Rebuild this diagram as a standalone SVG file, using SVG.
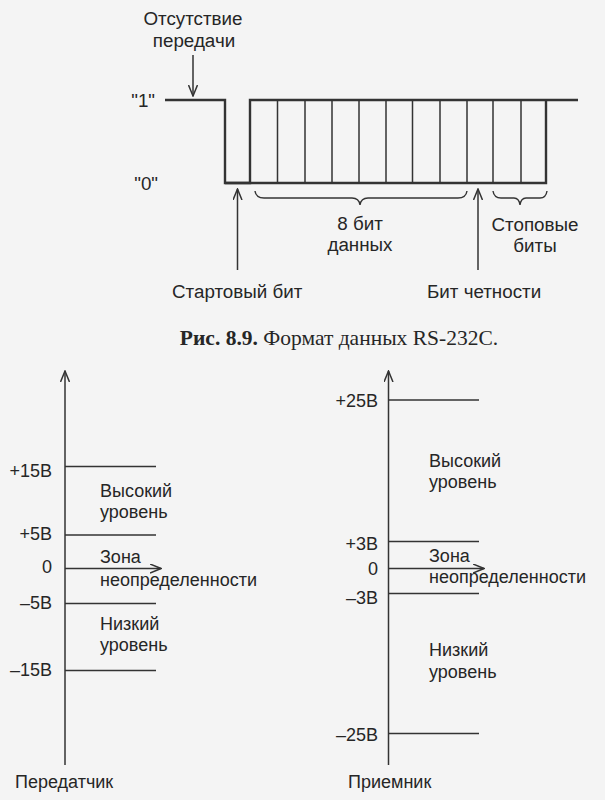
<svg xmlns="http://www.w3.org/2000/svg" width="605" height="800" viewBox="0 0 605 800">
<style>
.t{font-family:"Liberation Sans",Arial,sans-serif;font-size:18.8px;fill:#262626}
.a{font-family:"Liberation Sans",Arial,sans-serif;font-size:18px;fill:#262626}
.m{text-anchor:middle}
.e{text-anchor:end}
.cap{font-family:"Liberation Serif","Times New Roman",serif;font-size:21.5px;fill:#262626}
.w{fill:none;stroke:#333;stroke-width:2.4}
.d{fill:none;stroke:#333;stroke-width:1.5}
.l{fill:none;stroke:#333;stroke-width:1.4}
.ar{fill:none;stroke:#333;stroke-width:1.5;marker-end:url(#ah)}
</style>
<defs>
<marker id="ah" viewBox="0 0 12 10" refX="11" refY="5" markerWidth="12" markerHeight="10" markerUnits="userSpaceOnUse" orient="auto">
<path d="M0,0.5 L11,5 L0,9.5" fill="none" stroke="#333" stroke-width="1.5"/>
</marker>
</defs>
<rect width="605" height="800" fill="#f4f4f4"/>

<g id="waveform">
<path class="w" d="M165,100 H225 V183 H250 V100 H578"/>
<path class="w" d="M225,183 H546 V100"/>
<path class="d" d="M277.5,100 V183 M305,100 V183 M332,100 V183 M359,100 V183 M386,100 V183 M412.5,100 V183 M440,100 V183 M467,100 V183 M493,100 V183 M521,100 V183"/>
<text class="t e" x="155" y="107">"1"</text>
<text class="t e" x="158" y="190">"0"</text>
</g>

<g id="idle">
<text class="t m" x="193" y="25">Отсутствие</text>
<text class="t m" x="194" y="47">передачи</text>
</g>
<g id="start-bit">
<text class="t" x="172" y="298">Стартовый бит</text>
</g>
<g id="parity-bit">
<text class="t" x="427" y="298">Бит четности</text>
</g>
<g id="data-bits">
<path class="l" d="M255,191 Q256,198 264,198 H352 Q359,198 360,205 Q361,198 368,198 H458 Q466,198 467,191"/>
<text class="t m" x="360" y="230">8 бит</text>
<text class="t m" x="360" y="251">данных</text>
</g>
<g id="stop-bits">
<path class="l" d="M493,191 Q494,198 501,198 H514 Q519,198 520,205 Q521,198 526,198 H540 Q546,198 547,191"/>
<text class="t m" x="535" y="231">Стоповые</text>
<text class="t m" x="535" y="252">биты</text>
</g>

<g id="connectors">
<line class="ar" x1="193" y1="55" x2="193" y2="96"/>
<line class="ar" x1="237.5" y1="270" x2="237.5" y2="189"/>
<line class="ar" x1="478" y1="270" x2="478" y2="189"/>
<line class="ar" x1="65" y1="765" x2="65" y2="371"/>
<line class="ar" x1="65" y1="568.5" x2="161" y2="568.5"/>
<line class="ar" x1="388.5" y1="765" x2="388.5" y2="371"/>
<line class="ar" x1="388.5" y1="568.5" x2="484" y2="568.5"/>
</g>

<g id="caption">
<text class="cap m" x="339" y="345"><tspan font-weight="bold">Рис. 8.9.</tspan> Формат данных RS-232C.</text>
</g>

<g id="transmitter">
<path class="l" d="M65,466.5 H156 M65,535 H156 M65,603.5 H156 M65,670.5 H156"/>
<text class="a e" x="52" y="477">+15В</text>
<text class="a e" x="52" y="540">+5В</text>
<text class="a e" x="52" y="573">0</text>
<text class="a e" x="52" y="609">–5В</text>
<text class="a e" x="52" y="676">–15В</text>
<text class="a" x="100" y="497">Высокий</text>
<text class="a" x="100" y="518">уровень</text>
<text class="a" x="100" y="563">Зона</text>
<text class="a" x="100" y="586">неопределенности</text>
<text class="a" x="100" y="630">Низкий</text>
<text class="a" x="100" y="651">уровень</text>
<text class="a" x="15" y="788">Передатчик</text>
</g>

<g id="receiver">
<path class="l" d="M388.5,400 H479 M388.5,541.5 H479 M388.5,593.5 H479 M388.5,733.5 H479"/>
<text class="a e" x="378" y="407">+25В</text>
<text class="a e" x="378" y="550">+3В</text>
<text class="a e" x="378" y="575">0</text>
<text class="a e" x="378" y="604">–3В</text>
<text class="a e" x="378" y="741">–25В</text>
<text class="a" x="429" y="467">Высокий</text>
<text class="a" x="429" y="488">уровень</text>
<text class="a" x="429" y="562">Зона</text>
<text class="a" x="429" y="583">неопределенности</text>
<text class="a" x="429" y="656">Низкий</text>
<text class="a" x="429" y="678">уровень</text>
<text class="a" x="348" y="788">Приемник</text>
</g>
</svg>
